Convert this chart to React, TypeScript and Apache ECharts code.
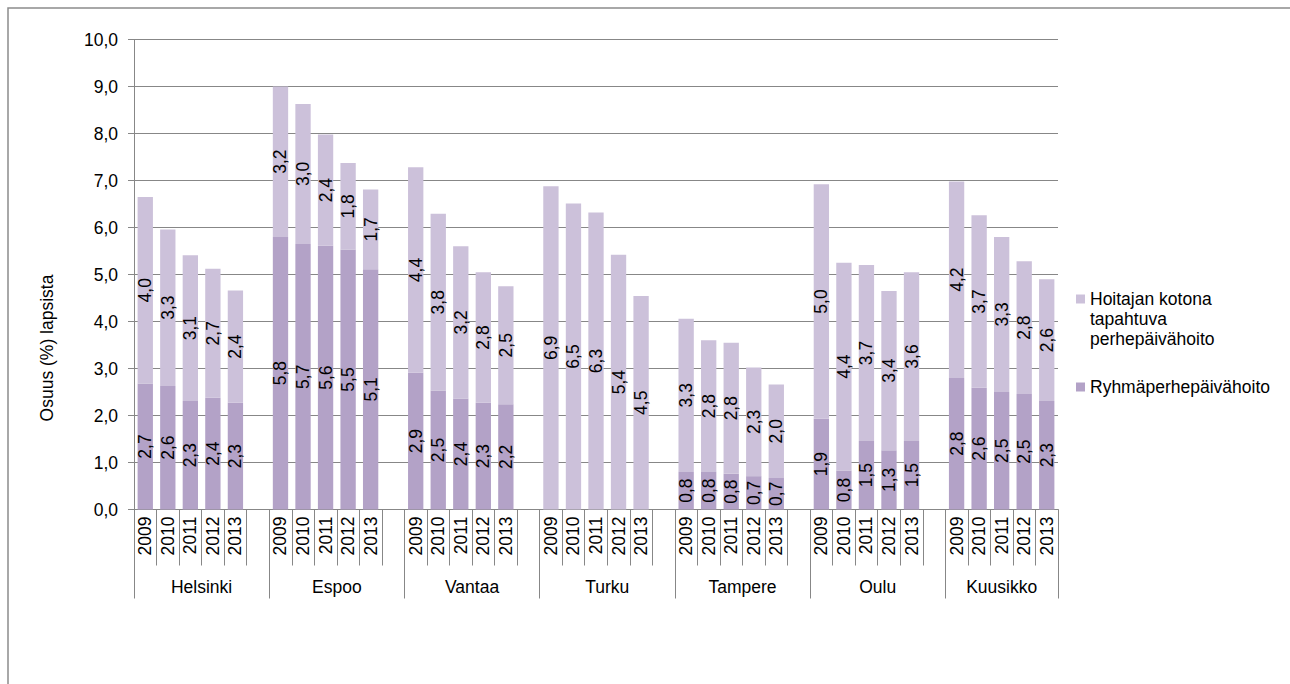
import React, { useEffect, useRef } from 'react';
import * as echarts from 'echarts';

const groups = ['Helsinki', 'Espoo', 'Vantaa', 'Turku', 'Tampere', 'Oulu', 'Kuusikko'];
const years = ['2009', '2010', '2011', '2012', '2013'];
const seriesNames = ['Hoitajan kotona tapahtuva perhepäivähoito', 'Ryhmäperhepäivähoito'];
const legendLines = ['Hoitajan kotona', 'tapahtuva', 'perhepäivähoito'];
const yAxisTitle = 'Osuus (%) lapsista';
const yMin = 0;
const yMax = 10;
const yStep = 1;

// Ryhmäperhepäivähoito (lower segment), per group, 2009..2013
const ryhmaHelsinki = [2.68, 2.63, 2.31, 2.38, 2.27];
const ryhmaEspoo = [5.8, 5.65, 5.61, 5.53, 5.11];
const ryhmaVantaa = [2.91, 2.53, 2.36, 2.27, 2.24];
const ryhmaTurku = [null, null, null, null, null];
const ryhmaTampere = [0.8, 0.8, 0.76, 0.71, 0.67];
const ryhmaOulu = [1.93, 0.83, 1.46, 1.26, 1.46];
const ryhmaKuusikko = [2.8, 2.59, 2.5, 2.46, 2.31];

// Hoitajan kotona tapahtuva perhepäivähoito (upper segment)
const hoitajanHelsinki = [3.97, 3.33, 3.1, 2.74, 2.39];
const hoitajanEspoo = [3.2, 2.98, 2.37, 1.84, 1.7];
const hoitajanVantaa = [4.37, 3.76, 3.24, 2.78, 2.51];
const hoitajanTurku = [6.88, 6.51, 6.32, 5.42, 4.54];
const hoitajanTampere = [3.26, 2.8, 2.79, 2.31, 1.99];
const hoitajanOulu = [4.99, 4.42, 3.74, 3.39, 3.59];
const hoitajanKuusikko = [4.18, 3.67, 3.3, 2.82, 2.59];

const ryhma = [ryhmaHelsinki, ryhmaEspoo, ryhmaVantaa, ryhmaTurku, ryhmaTampere, ryhmaOulu, ryhmaKuusikko];
const hoitajan = [hoitajanHelsinki, hoitajanEspoo, hoitajanVantaa, hoitajanTurku, hoitajanTampere, hoitajanOulu, hoitajanKuusikko];

const FONT = '"Liberation Sans", Arial, sans-serif';
const FS = 17.5;
const GREY = '#878787';
const TEXT = '#000000';
const C_TOP = '#ccc1da';
const C_BOTTOM = '#b3a2c7';

const fmt = (v: number | null | undefined) =>
  v === null || v === undefined ? '' : Number(v).toFixed(1).replace('.', ',');

export default function App() {
  const ref = useRef<HTMLDivElement>(null);

  useEffect(() => {
    if (!ref.current) return;
    const chart = echarts.init(ref.current, null, { renderer: 'svg' });

    const categories: string[] = [];
    const bottomData: (number | null)[] = [];
    const topData: (number | null)[] = [];
    const groupCenters: { v: number; name: string }[] = [];
    const slotsPerGroup = years.length + 1;
    groups.forEach((g, gi) => {
      const start = categories.length;
      years.forEach((y, yi) => {
        categories.push(y);
        bottomData.push(ryhma[gi][yi]);
        topData.push(hoitajan[gi][yi]);
      });
      if (gi < groups.length - 1) {
        categories.push('');
        bottomData.push(null);
        topData.push(null);
      }
      groupCenters.push({ v: (start + categories.length) / 2, name: g });
    });
    const nCat = categories.length;

    const labelCommon = {
      show: true,
      position: 'inside',
      rotate: 90,
      color: TEXT,
      fontFamily: FONT,
      fontSize: FS,
      formatter: (p: any) => fmt(p.value),
    };

    // pad with empty lines above so the first text line sits level with the marker
    const pad = Array(legendLines.length - 1).fill('');

    chart.setOption({
      animation: false,
      backgroundColor: '#ffffff',
      textStyle: { fontFamily: FONT },
      grid: { left: 134, top: 39.5, width: 924, height: 470, outerBoundsMode: 'none', containLabel: false },
      graphic: [
        {
          type: 'polyline',
          shape: { points: [[8, 684], [8, 8], [1290, 8]] },
          style: { stroke: '#8c8c8c', lineWidth: 1.5, fill: null },
          silent: true,
        },
        {
          type: 'text',
          x: 47,
          y: 348,
          rotation: Math.PI / 2,
          style: {
            text: yAxisTitle,
            fontFamily: FONT,
            fontSize: FS,
            fill: TEXT,
            align: 'center',
            verticalAlign: 'middle',
          },
        },
      ],
      legend: [
        {
          data: [seriesNames[0]],
          left: 1076,
          top: 249,
          padding: 0,
          icon: 'rect',
          itemWidth: 9,
          itemHeight: 9,
          formatter: () => pad.concat(legendLines).join('\n'),
          textStyle: { fontFamily: FONT, fontSize: FS, color: TEXT, lineHeight: 20 },
          selectedMode: false,
        },
        {
          data: [seriesNames[1]],
          left: 1076,
          top: 377,
          padding: 0,
          icon: 'rect',
          itemWidth: 9,
          itemHeight: 9,
          textStyle: { fontFamily: FONT, fontSize: FS, color: TEXT, lineHeight: 20 },
          selectedMode: false,
        },
      ],
      xAxis: [
        {
          type: 'category',
          data: categories,
          position: 'bottom',
          axisLine: { show: true, lineStyle: { color: GREY, width: 1 } },
          axisTick: { show: true, interval: 0, length: 56, lineStyle: { color: GREY, width: 1 } },
          axisLabel: { interval: 0, rotate: 90, margin: 7, color: TEXT, fontFamily: FONT, fontSize: FS },
          splitLine: { show: false },
        },
        {
          type: 'category',
          data: categories,
          position: 'bottom',
          axisLine: { show: false },
          axisTick: {
            show: true,
            interval: (i: number) => i % slotsPerGroup === 0,
            length: 89,
            lineStyle: { color: GREY, width: 1 },
          },
          axisLabel: { show: false },
          splitLine: { show: false },
        },
        {
          type: 'value',
          min: 0,
          max: nCat,
          interval: 0.5,
          position: 'bottom',
          axisLine: { show: false },
          axisTick: { show: false },
          splitLine: { show: false },
          axisLabel: {
            show: true,
            margin: 68,
            color: TEXT,
            fontFamily: FONT,
            fontSize: FS,
            formatter: (v: number) => {
              const g = groupCenters.find((c) => Math.abs(c.v - v) < 1e-6);
              return g ? g.name : '';
            },
          },
        },
      ],
      yAxis: {
        type: 'value',
        min: yMin,
        max: yMax,
        interval: yStep,
        axisLine: { show: true, lineStyle: { color: GREY, width: 1 } },
        axisTick: { show: true, length: 6, lineStyle: { color: GREY, width: 1 } },
        axisLabel: {
          margin: 16,
          color: TEXT,
          fontFamily: FONT,
          fontSize: FS,
          formatter: (v: number) => fmt(v),
        },
        splitLine: { show: true, lineStyle: { color: GREY, width: 1 } },
      },
      series: [
        {
          name: seriesNames[1],
          type: 'bar',
          stack: 'total',
          xAxisIndex: 0,
          barWidth: '68%',
          itemStyle: { color: C_BOTTOM },
          label: labelCommon,
          data: bottomData,
        },
        {
          name: seriesNames[0],
          type: 'bar',
          stack: 'total',
          xAxisIndex: 0,
          barWidth: '68%',
          itemStyle: { color: C_TOP },
          label: labelCommon,
          data: topData,
        },
      ],
    });

    return () => chart.dispose();
  }, []);

  return (
    <div
      ref={ref}
      style={{ position: 'fixed', left: 0, top: 0, width: 1290, height: 684, background: '#fff' }}
    />
  );
}
